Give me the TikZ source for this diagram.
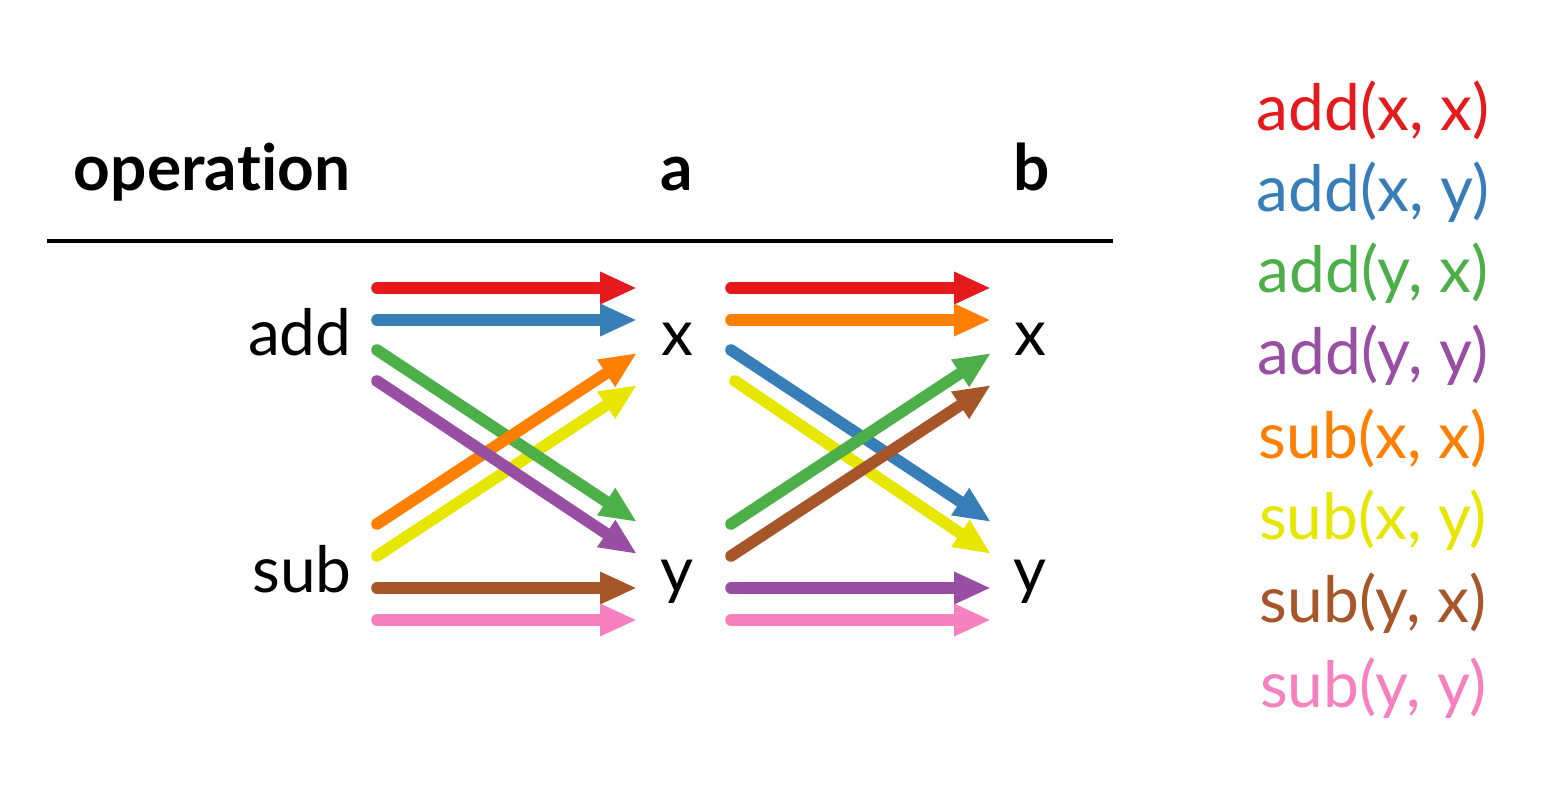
\documentclass[tikz,border=0pt]{standalone}
\usepackage{fontspec}
\setmainfont{Lato}[Ligatures=NoCommon]
\usetikzlibrary{arrows.meta}
\definecolor{cred}{HTML}{E41A1C}
\definecolor{cblue}{HTML}{377EB8}
\definecolor{cgreen}{HTML}{4DAF4A}
\definecolor{cpurple}{HTML}{984EA3}
\definecolor{corange}{HTML}{FF7F00}
\definecolor{cyellow}{HTML}{E6E600}
\definecolor{cbrown}{HTML}{A65628}
\definecolor{cpink}{HTML}{F781BF}
\begin{document}
\begin{tikzpicture}[x=0.5pt,y=-0.5pt,
  lab/.style={inner sep=0pt,font=\fontsize{32}{38}\selectfont},
  head/.style={inner sep=0pt,font=\fontsize{32}{38}\selectfont\bfseries},
  leg/.style={inner sep=0pt,font=\fontsize{32}{38}\selectfont},
  arr/.style={line width=5.8pt,line cap=round,-{Triangle[length=18.5pt,width=15pt]}}]
\useasboundingbox (0,0) rectangle (1566,787);
% header
\node[head,anchor=base] (hop) at (212,190) {opera\kern0pt tion};
\node[head,anchor=base] (ha) at (677,190) {a};
\node[head,anchor=base] (hb) at (1032,190) {b};
\coordinate (rl) at (47,241);
\coordinate (rr) at (1113,241);
\draw[line width=1.6pt] (rl) -- (rr);
% labels
\node[lab,anchor=base east] (add) at (352,355) {add};
\node[lab,anchor=base east] (sub) at (352,592) {sub};
\node[lab,anchor=base] (ax) at (677,355) {x};
\node[lab,anchor=base] (ay) at (677,592) {y};
\node[lab,anchor=base] (bx) at (1030,355) {x};
\node[lab,anchor=base] (by) at (1030,592) {y};
% endpoints
\foreach \n/\y in {1/288,2/320,3/350,4/381,5/524,6/556,7/588,8/620}{
  \coordinate (L\n) at (377,\y);
  \coordinate (R\n) at (731,\y);}
\foreach \n/\y in {1/288,2/320,3/353,4/385,5/522,6/554,7/588,8/620}{
  \coordinate (LT\n) at (637,\y);
  \coordinate (RT\n) at (991,\y);}
\coordinate (R4b) at (735,381);
% left group
\draw[arr,cred] (L1) -- (LT1);
\draw[arr,cblue] (L2) -- (LT2);
\draw[arr,cyellow] (L6) -- (LT4);
\draw[arr,cgreen] (L3) -- (LT5);
\draw[arr,corange] (L5) -- (LT3);
\draw[arr,cpurple] (L4) -- (LT6);
\draw[arr,cbrown] (L7) -- (LT7);
\draw[arr,cpink] (L8) -- (LT8);
% right group
\draw[arr,cred] (R1) -- (RT1);
\draw[arr,corange] (R2) -- (RT2);
\draw[arr,cblue] (R3) -- (RT5);
\draw[arr,cyellow] (R4b) -- (RT6);
\draw[arr,cgreen] (R5) -- (RT3);
\draw[arr,cbrown] (R6) -- (RT4);
\draw[arr,cpurple] (R7) -- (RT7);
\draw[arr,cpink] (R8) -- (RT8);
% legend
\node[leg,text=cred]    (g1) at (1373,110) {add(x, x)};
\node[leg,text=cblue]   (g2) at (1373,192) {add(x, y)};
\node[leg,text=cgreen]  (g3) at (1373,273) {add(y, x)};
\node[leg,text=cpurple] (g4) at (1373,355) {add(y, y)};
\node[leg,text=corange] (g5) at (1373,438) {sub(x, x)};
\node[leg,text=cyellow] (g6) at (1373,520) {sub(x, y)};
\node[leg,text=cbrown]  (g7) at (1373,603) {sub(y, x)};
\node[leg,text=cpink]   (g8) at (1373,688) {sub(y, y)};
\end{tikzpicture}
\end{document}
